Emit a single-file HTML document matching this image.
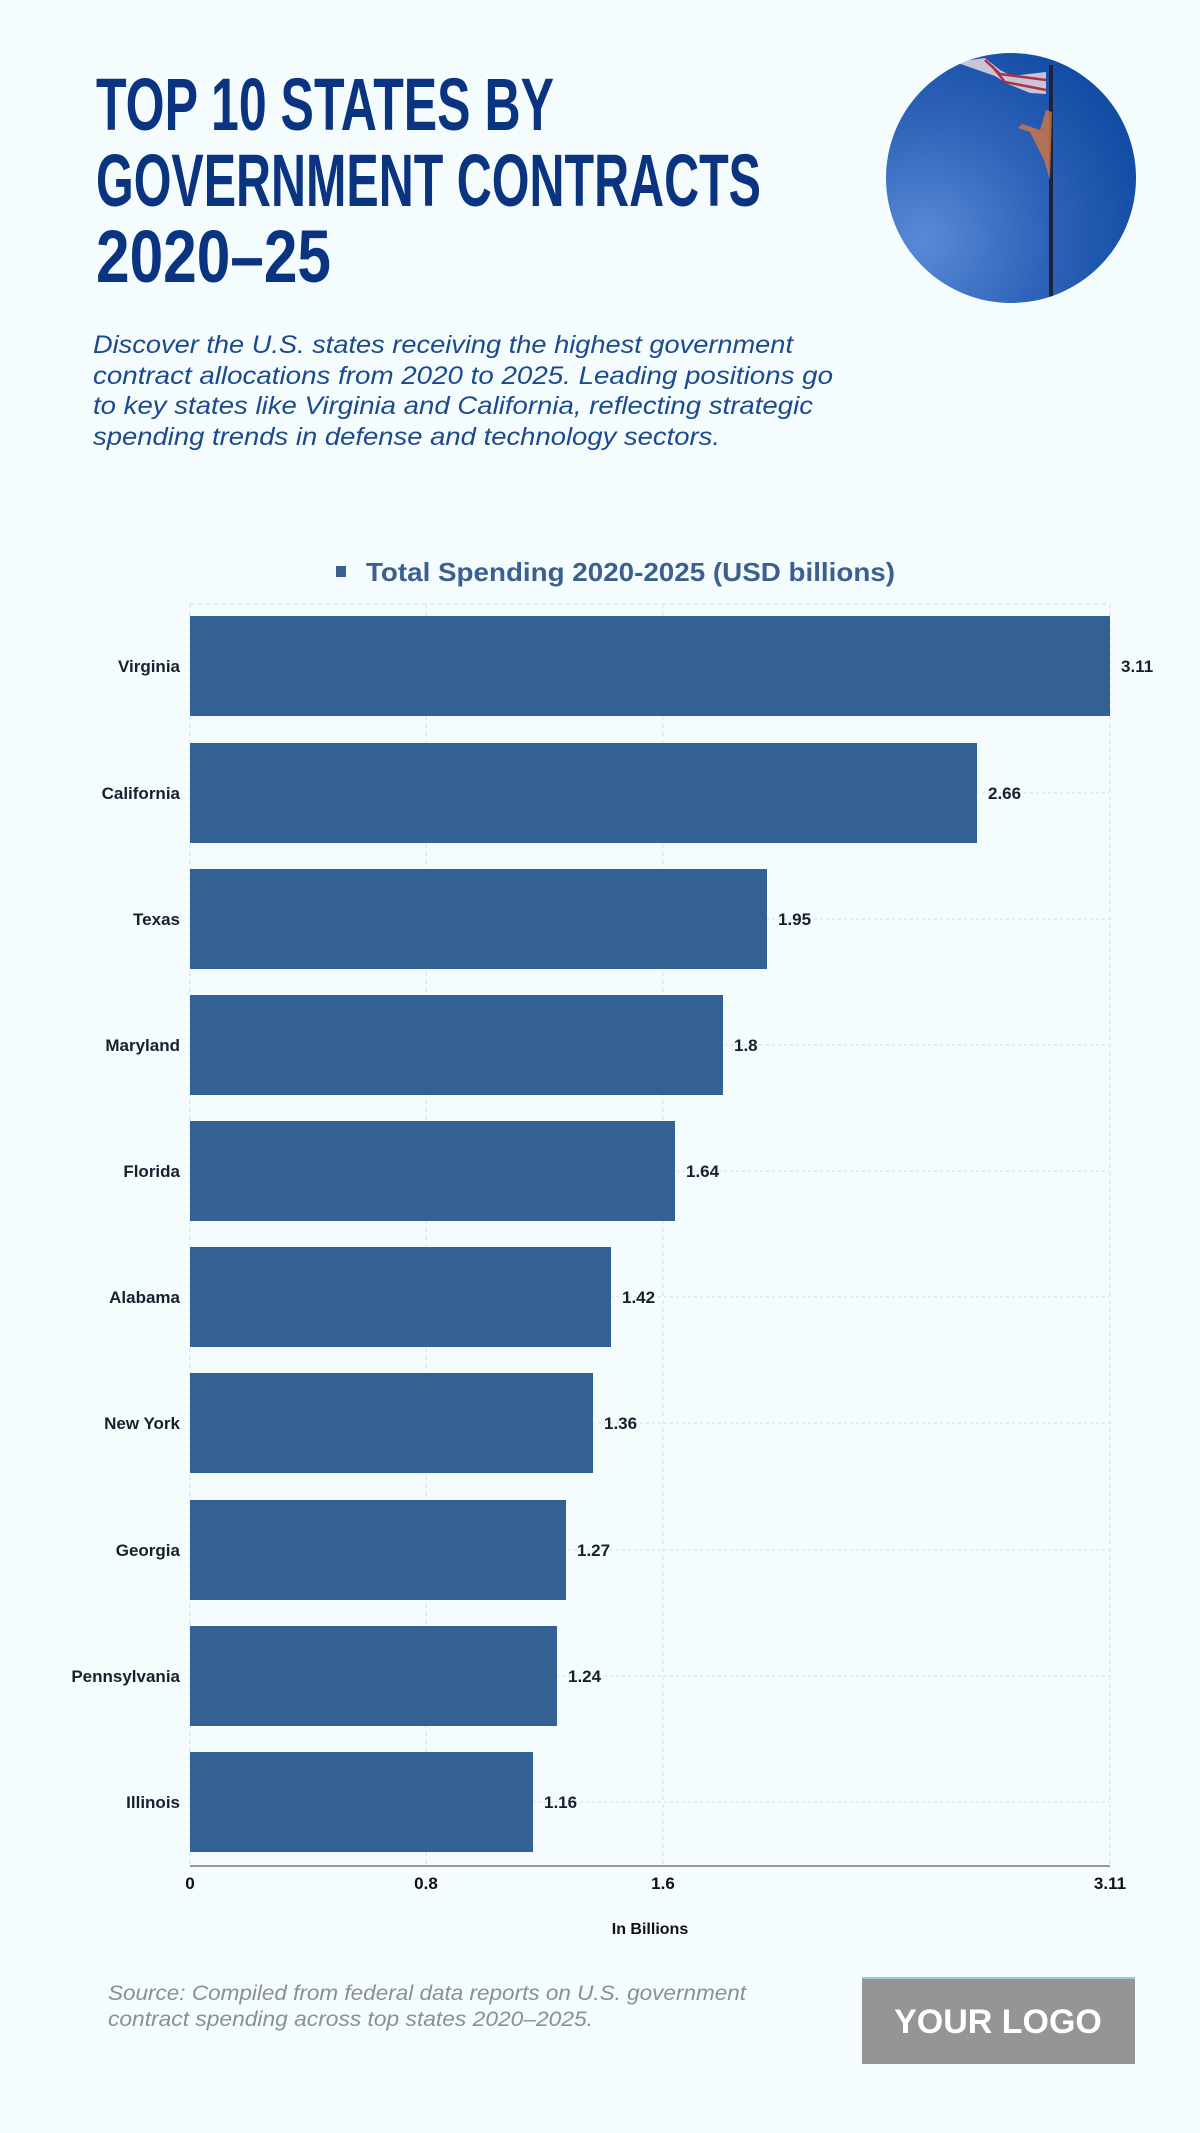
<!DOCTYPE html>
<html><head><meta charset="utf-8"><style>
html,body{margin:0;padding:0;background:#f5fcfe;}
svg{display:block}
</style></head><body>
<svg width="1200" height="2133" viewBox="0 0 1200 2133" xmlns="http://www.w3.org/2000/svg" font-family="Liberation Sans, sans-serif">
<defs>
<radialGradient id="sky" cx="0.15" cy="0.75" r="1">
<stop offset="0" stop-color="#5a8ad6"/><stop offset="0.5" stop-color="#2d62b8"/><stop offset="1" stop-color="#0d47a0"/>
</radialGradient>
<clipPath id="cc"><circle cx="1011" cy="178" r="125"/></clipPath>
</defs>
<rect width="1200" height="2133" fill="#f5fcfe"/>
<g fill="#0b3480" font-weight="bold" font-size="74">
<text x="96" y="130" textLength="458" lengthAdjust="spacingAndGlyphs">TOP 10 STATES BY</text>
<text x="96" y="206" textLength="665" lengthAdjust="spacingAndGlyphs">GOVERNMENT CONTRACTS</text>
<text x="96" y="282" textLength="235" lengthAdjust="spacingAndGlyphs">2020–25</text>
</g>
<circle cx="1011" cy="178" r="125" fill="url(#sky)"/>
<g clip-path="url(#cc)">
<rect x="1049" y="65" width="4" height="250" fill="#1a2340"/>
<path d="M955 62 L985 58 L1000 70 L1012 76 L1046 72 L1046 94 L1030 93 L1008 84 L995 76 Z" fill="#e8d8e0" opacity="0.85"/>
<path d="M985 60 L1000 74 L1046 80 M992 66 L1005 82 L1046 90" stroke="#b03040" stroke-width="2.5" fill="none"/>
<path d="M1046 110 L1052 112 L1050 180 L1044 160 L1030 132 L1018 128 L1022 124 L1040 130 Z" fill="#e07a3a" opacity="0.75"/>
</g>
<g fill="#1b4a8e" font-style="italic" font-size="25">
<text x="93" y="353" textLength="700" lengthAdjust="spacingAndGlyphs">Discover the U.S. states receiving the highest government</text>
<text x="93" y="384" textLength="740" lengthAdjust="spacingAndGlyphs">contract allocations from 2020 to 2025. Leading positions go</text>
<text x="93" y="414" textLength="720" lengthAdjust="spacingAndGlyphs">to key states like Virginia and California, reflecting strategic</text>
<text x="93" y="445" textLength="627" lengthAdjust="spacingAndGlyphs">spending trends in defense and technology sectors.</text>
</g>
<rect x="336" y="566" width="10" height="11" fill="#3b5f8f"/>
<text x="366" y="581" fill="#3b5f8f" font-weight="bold" font-size="26" textLength="529" lengthAdjust="spacingAndGlyphs">Total Spending 2020-2025 (USD billions)</text>
<g stroke="#d6dde2" stroke-width="1" stroke-dasharray="4,4" fill="none">
<line x1="190" y1="604" x2="1110" y2="604"/>
<line x1="190" y1="604" x2="190" y2="1866"/>
<line x1="426" y1="604" x2="426" y2="1866"/>
<line x1="663" y1="604" x2="663" y2="1866"/>
<line x1="1110" y1="604" x2="1110" y2="1866"/>
</g>
<line x1="190" y1="1866" x2="1110" y2="1866" stroke="#999" stroke-width="2"/>
<g font-size="17" font-weight="bold" fill="#111" text-anchor="middle">
<text x="190" y="1889">0</text><text x="426" y="1889">0.8</text><text x="663" y="1889">1.6</text><text x="1110" y="1889">3.11</text>
<text x="650" y="1934" font-size="16">In Billions</text>
</g>
<g fill="#8a8f95" font-style="italic" font-size="21">
<text x="108" y="2000" textLength="638" lengthAdjust="spacingAndGlyphs">Source: Compiled from federal data reports on U.S. government</text>
<text x="108" y="2026" textLength="485" lengthAdjust="spacingAndGlyphs">contract spending across top states 2020–2025.</text>
</g>
<rect x="862" y="1977" width="273" height="87" fill="#959595"/>
<rect x="862" y="1977" width="273" height="2" fill="#9ec3dd"/>
<text x="998" y="2033" text-anchor="middle" fill="#fff" font-weight="bold" font-size="34">YOUR LOGO</text>
<g font-size="17" font-weight="bold" fill="#1a1f2e">
<g><line x1="190" y1="666" x2="1110" y2="666" stroke="#d6dde2" stroke-dasharray="3,3"/><rect x="190" y="616" width="920" height="100" fill="#336194"/><text x="180" y="672" text-anchor="end">Virginia</text><text x="1121" y="672">3.11</text></g>
<g><line x1="190" y1="793" x2="1110" y2="793" stroke="#d6dde2" stroke-dasharray="3,3"/><rect x="190" y="743" width="787" height="100" fill="#336194"/><text x="180" y="799" text-anchor="end">California</text><text x="988" y="799">2.66</text></g>
<g><line x1="190" y1="919" x2="1110" y2="919" stroke="#d6dde2" stroke-dasharray="3,3"/><rect x="190" y="869" width="577" height="100" fill="#336194"/><text x="180" y="925" text-anchor="end">Texas</text><text x="778" y="925">1.95</text></g>
<g><line x1="190" y1="1045" x2="1110" y2="1045" stroke="#d6dde2" stroke-dasharray="3,3"/><rect x="190" y="995" width="533" height="100" fill="#336194"/><text x="180" y="1051" text-anchor="end">Maryland</text><text x="734" y="1051">1.8</text></g>
<g><line x1="190" y1="1171" x2="1110" y2="1171" stroke="#d6dde2" stroke-dasharray="3,3"/><rect x="190" y="1121" width="485" height="100" fill="#336194"/><text x="180" y="1177" text-anchor="end">Florida</text><text x="686" y="1177">1.64</text></g>
<g><line x1="190" y1="1297" x2="1110" y2="1297" stroke="#d6dde2" stroke-dasharray="3,3"/><rect x="190" y="1247" width="421" height="100" fill="#336194"/><text x="180" y="1303" text-anchor="end">Alabama</text><text x="622" y="1303">1.42</text></g>
<g><line x1="190" y1="1423" x2="1110" y2="1423" stroke="#d6dde2" stroke-dasharray="3,3"/><rect x="190" y="1373" width="403" height="100" fill="#336194"/><text x="180" y="1429" text-anchor="end">New York</text><text x="604" y="1429">1.36</text></g>
<g><line x1="190" y1="1550" x2="1110" y2="1550" stroke="#d6dde2" stroke-dasharray="3,3"/><rect x="190" y="1500" width="376" height="100" fill="#336194"/><text x="180" y="1556" text-anchor="end">Georgia</text><text x="577" y="1556">1.27</text></g>
<g><line x1="190" y1="1676" x2="1110" y2="1676" stroke="#d6dde2" stroke-dasharray="3,3"/><rect x="190" y="1626" width="367" height="100" fill="#336194"/><text x="180" y="1682" text-anchor="end">Pennsylvania</text><text x="568" y="1682">1.24</text></g>
<g><line x1="190" y1="1802" x2="1110" y2="1802" stroke="#d6dde2" stroke-dasharray="3,3"/><rect x="190" y="1752" width="343" height="100" fill="#336194"/><text x="180" y="1808" text-anchor="end">Illinois</text><text x="544" y="1808">1.16</text></g>
</g>
</svg>
</body></html>
